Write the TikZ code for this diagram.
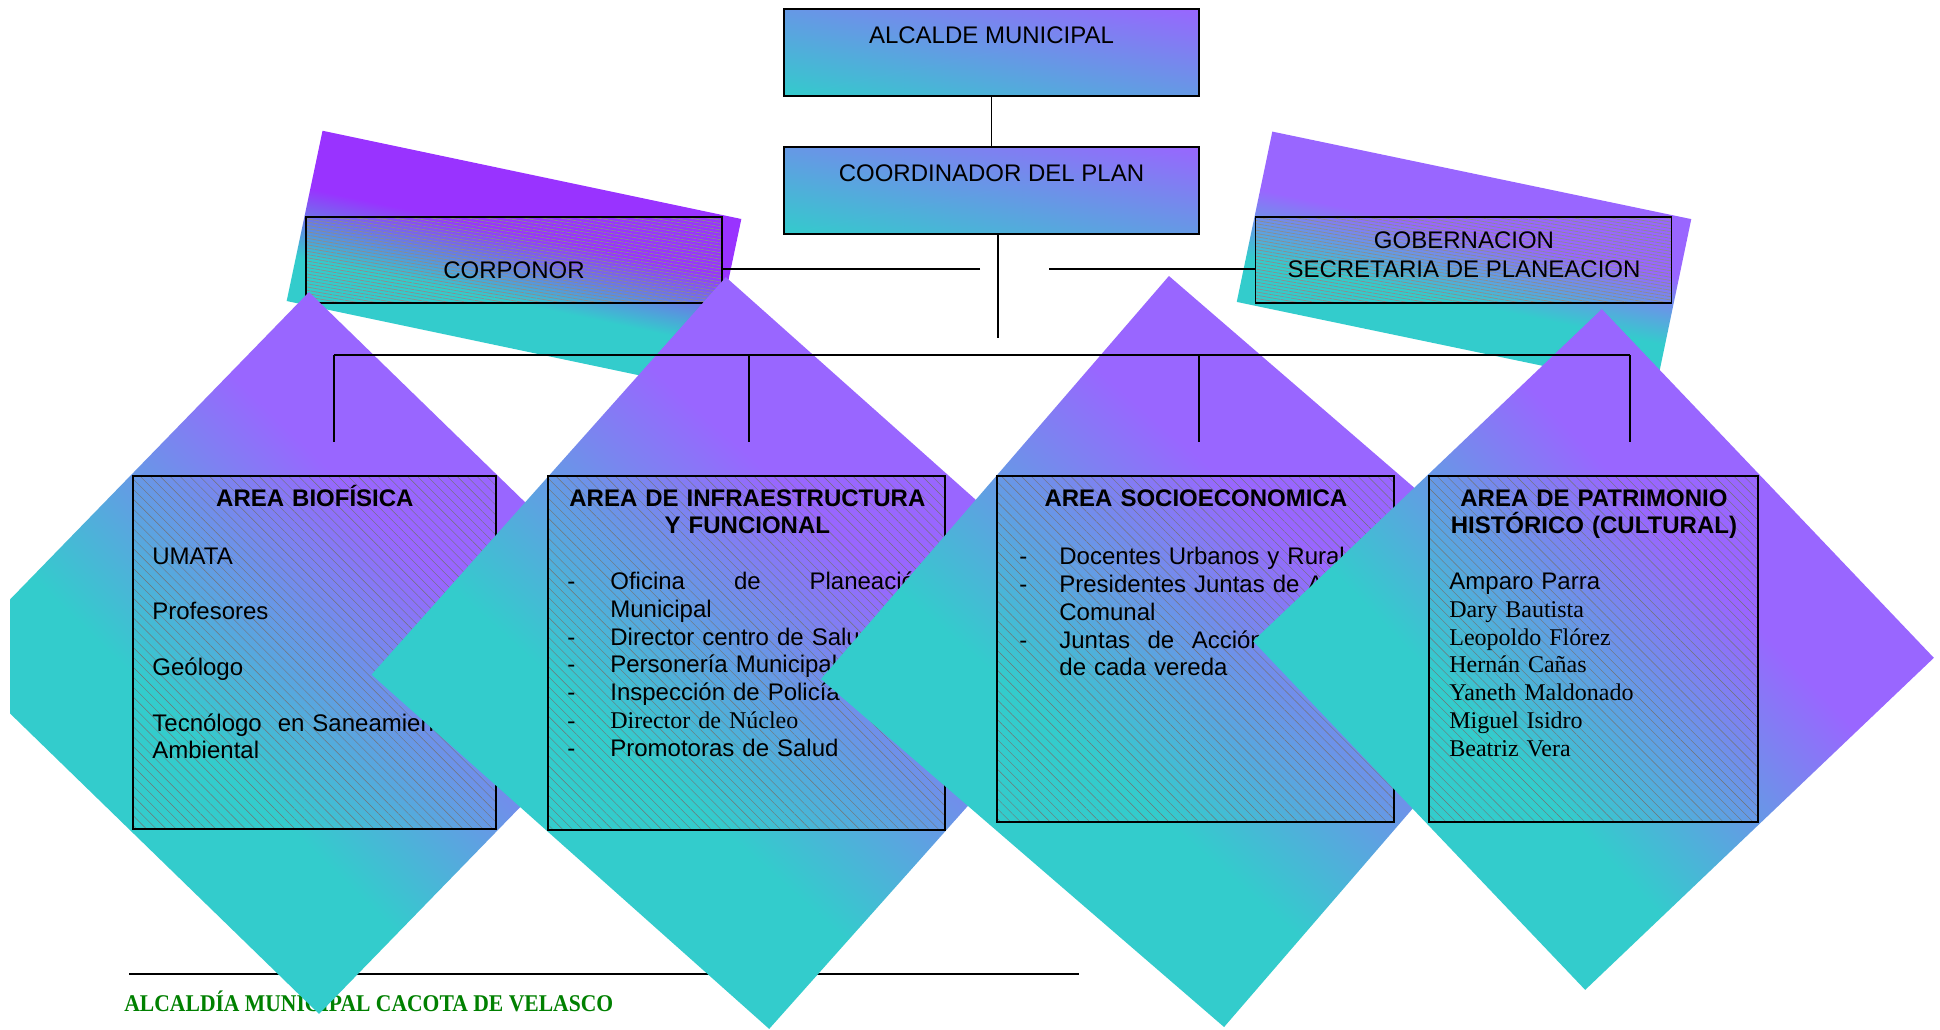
\documentclass[tikz,border=0pt]{standalone}
\usepackage{fontspec}
\usepackage{graphicx}
\setmainfont{Liberation Sans}
\newfontfamily\timesfont{Liberation Serif}
\usetikzlibrary{positioning, calc, patterns.meta}

\definecolor{lila}{HTML}{9966FF}
\definecolor{violeta}{HTML}{9933FF}
\definecolor{turq}{HTML}{33CCCC}
\definecolor{verdepie}{HTML}{008000}

\pgfdeclareverticalshading{rombo}{100bp}{color(0bp)=(turq); color(36bp)=(turq); color(64bp)=(lila); color(100bp)=(lila)}
\pgfdeclareverticalshading{corpfondo}{100bp}{color(0bp)=(turq); color(38bp)=(turq); color(58bp)=(violeta); color(100bp)=(violeta)}
\pgfdeclareverticalshading{gobfondo}{100bp}{color(0bp)=(turq); color(38bp)=(turq); color(58bp)=(lila); color(100bp)=(lila)}

% tilted square behind an area: centre x, centre y, half side, angle
\newcommand{\rombo}[4]{%
  \begin{scope}[transform canvas={rotate around={#4:(#1,#2)}}]
    \shade[shading=rombo] ([shift={(-#3,-#3)}]#1,#2) rectangle ([shift={(#3,#3)}]#1,#2);
  \end{scope}}
\newcommand{\guion}[1][21.5pt]{\makebox[#1][l]{-}}

\begin{document}
\begin{tikzpicture}[x=0.5pt, y=-0.5pt,
    every node/.style={font=\fontsize{12pt}{13.9pt}\selectfont},
    conn/.style={line width=0.7pt},
    topbox/.style={preaction={left color=turq, right color=lila, fill opacity=1},
                   top color=lila, bottom color=turq, fill opacity=0.5,
                   draw, line width=0.7pt, inner sep=0pt, minimum width=207.5pt, minimum height=43.5pt},
    sidebox/.style={draw, line width=0.7pt, inner sep=0pt, minimum width=208pt, minimum height=43pt,
                   pattern={Lines[angle=-10,distance=1.6pt,line width=0.35pt]}, pattern color=black!45},
    areabox/.style={draw, line width=0.7pt, inner sep=0pt,
                   pattern={Lines[angle=-45,distance=3.5pt,line width=0.2pt]}, pattern color=black!55},
    txt/.style={inner sep=0pt, align=left, anchor=base west}]
  \fill[white] (0,0) rectangle (1940,1029);
  \useasboundingbox (0,0) rectangle (1940,1029);

  % footer
  \coordinate (piel) at (129,974);
  \coordinate (pier) at (1079,974);
  \draw[line width=1pt] (piel) -- (pier);
  \node[anchor=base west, inner sep=0pt, text=verdepie, font=\timesfont\bfseries\fontsize{12pt}{14pt}\selectfont] (pie) at (124,1011)
    {\scalebox{0.9}[1]{ALCALDÍA MUNICIPAL CACOTA DE VELASCO}};

  % tilted backgrounds of the side boxes
  \begin{scope}[transform canvas={rotate around={-11.9:(514,260)}}]
    \shade[shading=corpfondo] (300,173) rectangle (728,347);
  \end{scope}
  \begin{scope}[transform canvas={rotate around={-11.8:(1464,260.5)}}]
    \shade[shading=gobfondo] (1250,173.5) rectangle (1678,347.5);
  \end{scope}

  \node[sidebox] (corponor) at (514,260) {};
  \node[anchor=base] (corptxt) at (514,278) {CORPONOR};
  \node[sidebox] (gober) at (1463.5,260) {};
  \node[anchor=base] (gobtxt1) at (1464,248) {GOBERNACION};
  \node[anchor=base] (gobtxt2) at (1464,277) {SECRETARIA DE PLANEACION};

  \node[topbox] (alcalde) at (991.5,52.5) {};
  \node[anchor=base] (alctxt) at (991.5,43) {ALCALDE MUNICIPAL};
  \node[topbox] (coord) at (991.5,190.5) {};
  \node[anchor=base] (coordtxt) at (991.5,181) {COORDINADOR DEL PLAN};

  % areas, each one partly hidden by the next square
  \begin{scope}
    \clip (10,0) rectangle (1940,1029);
    \rombo{314}{653}{255.25}{-44.2}
  \end{scope}
  \node[areabox, minimum width=181.5pt, minimum height=176.5pt] (bio) at (314.5,652.5) {};
  \node[txt, text width=162.5pt] (biotxt) at (152,506)
    {\makebox[\linewidth]{\bfseries AREA BIOFÍSICA}\\[15.2pt]
     UMATA\\[13.9pt]
     Profesores\\[13.9pt]
     Geólogo\\[13.9pt]
     Tecnólogo\ \ en Saneamiento\\
     Ambiental};

  \rombo{747.5}{653}{266.25}{-41.7}
  \node[areabox, minimum width=198.5pt, minimum height=177pt] (infra) at (746.5,653) {};
  \node[txt, text width=200pt] (infratxt) at (567,506)
    {\makebox[180pt]{\bfseries AREA DE INFRAESTRUCTURA}\\
     \makebox[180pt]{\bfseries Y FUNCIONAL}\\[13.9pt]
     \guion\makebox[159pt][l]{Oficina\hfill de\hfill Planeación}\\
     \hspace*{21.5pt}Municipal\\
     \guion Director centro de Salud\\
     \guion Personería Municipal\\
     \guion Inspección de Policía\\
     {\timesfont\guion Director de Núcleo}\\
     \guion Promotoras de Salud};

  \rombo{1196.5}{651.5}{266.25}{-40.8}
  \node[areabox, minimum width=198.5pt, minimum height=173pt] (socio) at (1195.5,649) {};
  \node[txt, text width=200pt] (sociotxt) at (1019,506)
    {\makebox[176.5pt]{\bfseries AREA SOCIOECONOMICA}\\[15.4pt]
     \guion[20pt]Docentes Urbanos y Rurales\\
     \guion[20pt]Presidentes Juntas de Acción\\
     \hspace*{20pt}Comunal\\
     \guion[20pt]\makebox[159pt][l]{Juntas\hfill de\hfill Acción\hfill Comunal}\\
     \hspace*{20pt}de cada vereda};

  \rombo{1593.5}{649.5}{240.75}{-46.4}
  \node[areabox, minimum width=164.5pt, minimum height=173pt] (patri) at (1593.5,649) {};
  \node[txt, text width=144.5pt] (patritxt) at (1449,506)
    {\makebox[\linewidth]{\bfseries AREA DE PATRIMONIO}\\
     \makebox[\linewidth]{\bfseries HISTÓRICO (CULTURAL)}\\[13.9pt]
     Amparo Parra\\
     {\timesfont Dary Bautista}\\
     {\timesfont Leopoldo Flórez}\\
     {\timesfont Hernán Cañas}\\
     {\timesfont Yaneth Maldonado}\\
     {\timesfont Miguel Isidro}\\
     {\timesfont Beatriz Vera}};

  % connectors
  \coordinate (hub) at (998,338);
  \coordinate (lstub) at (980,269);
  \coordinate (rstub) at (1049,269);
  \coordinate (bus) at (0,355);
  \coordinate (d1) at (334,442);
  \coordinate (d2) at (749,442);
  \coordinate (d3) at (1199,442);
  \coordinate (d4) at (1630,442);
  \draw[conn] (alcalde.south) -- (coord.north);
  \draw[conn] (hub |- coord.south) -- (hub);
  \draw[conn] (lstub) -- (lstub -| corponor.east);
  \draw[conn] (rstub) -- (rstub -| gober.west);
  \draw[conn] (d1 |- bus) -- (d4 |- bus);
  \foreach \d in {d1,d2,d3,d4}
    \draw[conn] (\d |- bus) -- (\d);
\end{tikzpicture}
\end{document}
